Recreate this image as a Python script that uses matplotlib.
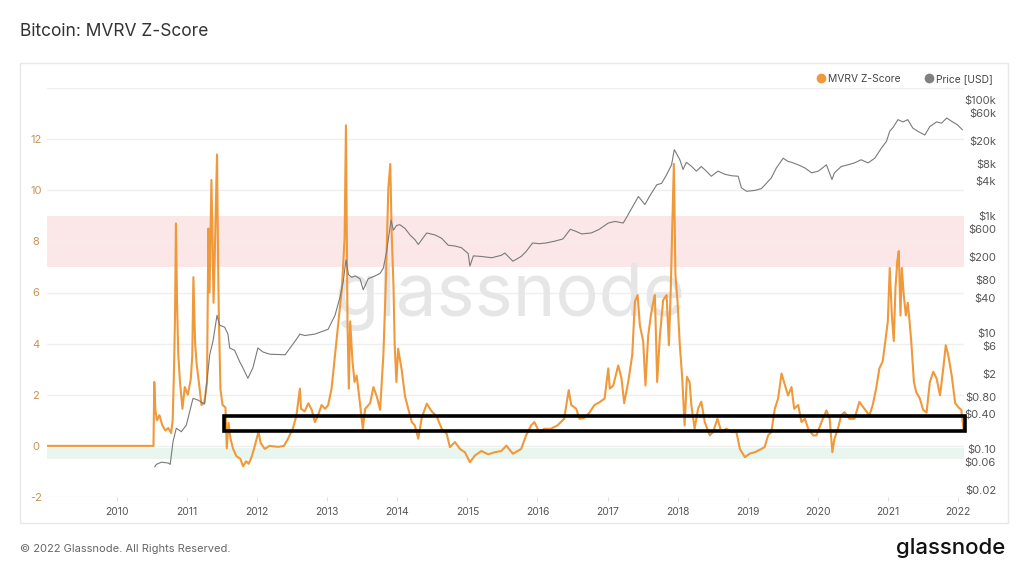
import numpy as np
import pandas as pd
import matplotlib
matplotlib.use('Agg')
import matplotlib.pyplot as plt
import matplotlib.dates as mdates
from matplotlib.patches import Rectangle
from matplotlib.lines import Line2D
import matplotlib.ticker as ticker

plt.rcParams['font.family'] = ['Inter', 'DejaVu Sans']

# MVRV Z-Score (date, value)
mvrv_dates = [
    '2009-01-03', '2010-07-10', '2010-07-14', '2010-07-20', '2010-07-28', '2010-08-10', '2010-08-25',
    '2010-09-10', '2010-09-25', '2010-10-10', '2010-10-18', '2010-10-25', '2010-10-30', '2010-11-04',
    '2010-11-10', '2010-11-16', '2010-11-25', '2010-12-08', '2010-12-20', '2011-01-05', '2011-01-20',
    '2011-01-28', '2011-02-03', '2011-02-12', '2011-02-20', '2011-03-05', '2011-03-17', '2011-04-01',
    '2011-04-15', '2011-04-22', '2011-04-28', '2011-05-08', '2011-05-19', '2011-05-27', '2011-06-06',
    '2011-06-12', '2011-06-16', '2011-06-24', '2011-07-05', '2011-07-20', '2011-07-27', '2011-08-05',
    '2011-08-15', '2011-08-28', '2011-09-15', '2011-10-05', '2011-10-20', '2011-11-05', '2011-11-18',
    '2011-12-05', '2011-12-20', '2012-01-08', '2012-01-20', '2012-02-10', '2012-03-05', '2012-04-20',
    '2012-05-20', '2012-06-10', '2012-07-05', '2012-07-24', '2012-08-11', '2012-08-17', '2012-09-05',
    '2012-09-24', '2012-10-12', '2012-10-28', '2012-11-14', '2012-12-02', '2012-12-20', '2013-01-05',
    '2013-01-23', '2013-02-10', '2013-02-28', '2013-03-18', '2013-04-01', '2013-04-08', '2013-04-16',
    '2013-04-23', '2013-04-30', '2013-05-12', '2013-05-23', '2013-06-03', '2013-06-20', '2013-07-05',
    '2013-07-17', '2013-08-12', '2013-08-29', '2013-09-16', '2013-10-03', '2013-10-20', '2013-11-01',
    '2013-11-15', '2013-11-25', '2013-12-02', '2013-12-12', '2013-12-18', '2013-12-27', '2014-01-05',
    '2014-01-23', '2014-02-10', '2014-02-27', '2014-03-17', '2014-04-02', '2014-04-20', '2014-05-08',
    '2014-06-03', '2014-06-29', '2014-07-25', '2014-08-20', '2014-09-15', '2014-10-02', '2014-10-28',
    '2014-11-23', '2014-12-19', '2015-01-14', '2015-02-09', '2015-03-15', '2015-04-19', '2015-05-24',
    '2015-06-27', '2015-07-23', '2015-08-26', '2015-10-08', '2015-11-03', '2015-11-29', '2015-12-16',
    '2016-01-11', '2016-02-06', '2016-03-11', '2016-04-14', '2016-05-19', '2016-06-12', '2016-06-25',
    '2016-07-21', '2016-08-07', '2016-09-02', '2016-09-28', '2016-10-24', '2016-11-18', '2016-12-16',
    '2017-01-04', '2017-01-12', '2017-01-30', '2017-02-25', '2017-03-14', '2017-03-28', '2017-04-18',
    '2017-05-09', '2017-05-23', '2017-06-06', '2017-06-18', '2017-07-05', '2017-07-17', '2017-07-31',
    '2017-08-14', '2017-08-26', '2017-09-04', '2017-09-16', '2017-09-30', '2017-10-17', '2017-11-04',
    '2017-11-16', '2017-11-26', '2017-12-03', '2017-12-12', '2017-12-20', '2017-12-31', '2018-01-12',
    '2018-01-24', '2018-02-06', '2018-02-18', '2018-03-04', '2018-03-13', '2018-03-30', '2018-04-17',
    '2018-05-04', '2018-05-22', '2018-06-17', '2018-07-04', '2018-07-27', '2018-08-17', '2018-09-12',
    '2018-10-08', '2018-11-03', '2018-11-21', '2018-12-17', '2019-01-12', '2019-02-07', '2019-03-13',
    '2019-03-30', '2019-04-17', '2019-05-04', '2019-05-22', '2019-06-08', '2019-06-26', '2019-07-13',
    '2019-07-30', '2019-08-17', '2019-08-31', '2019-09-21', '2019-10-08', '2019-10-26', '2019-11-12',
    '2019-12-08', '2019-12-25', '2020-01-20', '2020-02-15', '2020-03-03', '2020-03-17', '2020-03-28',
    '2020-04-15', '2020-05-02', '2020-05-19', '2020-06-14', '2020-07-10', '2020-08-05', '2020-08-31',
    '2020-09-26', '2020-10-13', '2020-10-31', '2020-11-17', '2020-12-04', '2020-12-13', '2020-12-31',
    '2021-01-10', '2021-01-21', '2021-01-31', '2021-02-09', '2021-02-18', '2021-02-26', '2021-03-07',
    '2021-03-14', '2021-03-24', '2021-04-04', '2021-04-14', '2021-04-23', '2021-05-02', '2021-05-16',
    '2021-05-28', '2021-06-16', '2021-07-03', '2021-07-21', '2021-08-07', '2021-08-25', '2021-09-11',
    '2021-09-29', '2021-10-16', '2021-10-29', '2021-11-11', '2021-11-29', '2021-12-17', '2022-01-04',
    '2022-01-18', '2022-01-30',
]
mvrv_values = [
    0.0, 0.0, 2.5, 1.4, 1.0, 1.2, 0.8,
    0.6, 0.7, 0.5, 1.0, 3.0, 5.0, 8.7,
    5.5, 3.6, 2.5, 1.45, 2.3, 2.0, 2.6,
    3.5, 6.6, 4.0, 3.2, 2.4, 1.6, 1.7,
    2.5, 8.5, 6.0, 10.4, 5.6, 8.0, 11.4,
    7.0, 4.9, 2.2, 1.6, 1.5, -0.1, 0.9,
    0.3, -0.1, -0.4, -0.5, -0.8, -0.6, -0.7,
    -0.4, 0.0, 0.55, 0.1, -0.12, 0.0, -0.04,
    0.0, 0.28, 0.67, 1.19, 2.24, 1.45, 1.35,
    1.67, 1.4, 0.93, 1.2, 1.6, 1.45, 1.59,
    2.24, 3.55, 4.87, 6.18, 8.14, 12.54, 4.87,
    2.24, 4.87, 3.3, 2.5, 2.75, 1.67, 0.67,
    1.45, 1.67, 2.3, 1.93, 1.41, 3.55, 6.18,
    10.1, 11.03, 8.4, 6.18, 3.94, 2.5, 3.8,
    3.0, 1.93, 1.45, 0.93, 0.8, 0.28, 1.1,
    1.65, 1.35, 1.15, 0.67, 0.47, -0.05, 0.15,
    -0.12, -0.25, -0.64, -0.38, -0.2, -0.33, -0.25,
    -0.2, 0.01, -0.31, -0.12, 0.41, 0.8, 0.93,
    0.54, 0.67, 0.67, 0.8, 1.06, 2.18, 1.6,
    1.45, 1.06, 1.1, 1.3, 1.6, 1.7, 1.85,
    3.03, 2.24, 2.36, 3.15, 2.64, 1.67, 2.5,
    3.55, 5.65, 5.9, 4.7, 4.1, 2.36, 4.3,
    5.1, 5.6, 5.9, 2.5, 4.3, 5.7, 5.9,
    3.94, 6.18, 8.4, 11.03, 6.7, 5.65, 3.94,
    2.7, 0.8, 2.7, 2.5, 1.6, 0.67, 1.45,
    1.73, 0.93, 0.41, 0.54, 1.06, 0.54, 0.67,
    0.54, 0.54, -0.12, -0.44, -0.3, -0.25, -0.12,
    -0.05, 0.41, 0.54, 1.45, 1.85, 2.83, 2.4,
    1.97, 2.3, 1.45, 1.6, 0.93, 1.06, 0.67,
    0.41, 0.41, 0.93, 1.39, 1.06, -0.25, 0.28,
    0.67, 1.19, 1.32, 1.06, 1.06, 1.72, 1.45,
    1.19, 1.59, 2.24, 3.03, 3.3, 3.8, 4.87,
    6.96, 5.1, 4.1, 6.2, 7.2, 7.62, 5.1,
    6.96, 5.9, 5.1, 5.6, 4.9, 4.1, 2.5,
    2.1, 1.85, 1.41, 1.3, 2.5, 2.9, 2.64,
    1.98, 3.03, 3.94, 3.55, 2.75, 1.67, 1.5,
    1.41, 0.6,
]

# Price [USD] (date, value)
price_dates = [
    '2010-07-17', '2010-07-25', '2010-08-20', '2010-09-25', '2010-10-05', '2010-10-20', '2010-11-06',
    '2010-12-02', '2010-12-28', '2011-02-01', '2011-02-27', '2011-04-02', '2011-04-29', '2011-05-16',
    '2011-06-06', '2011-06-20', '2011-07-16', '2011-08-02', '2011-08-11', '2011-09-06', '2011-10-02',
    '2011-10-19', '2011-11-14', '2011-12-10', '2012-01-05', '2012-01-31', '2012-03-06', '2012-05-26',
    '2012-07-17', '2012-08-11', '2012-09-05', '2012-10-27', '2012-12-02', '2013-01-05', '2013-02-10',
    '2013-03-07', '2013-03-25', '2013-04-08', '2013-04-21', '2013-05-08', '2013-05-26', '2013-06-20',
    '2013-07-07', '2013-08-02', '2013-09-06', '2013-10-03', '2013-10-20', '2013-11-06', '2013-11-18',
    '2013-11-29', '2013-12-11', '2013-12-28', '2014-01-14', '2014-02-10', '2014-03-08', '2014-04-02',
    '2014-04-20', '2014-06-03', '2014-07-17', '2014-08-20', '2014-09-23', '2014-10-28', '2014-12-01',
    '2015-01-05', '2015-01-14', '2015-02-01', '2015-03-15', '2015-05-08', '2015-06-27', '2015-07-15',
    '2015-08-26', '2015-10-08', '2015-11-03', '2015-12-07', '2016-01-11', '2016-02-15', '2016-03-30',
    '2016-05-13', '2016-06-20', '2016-07-16', '2016-08-19', '2016-10-08', '2016-11-18', '2017-01-04',
    '2017-02-08', '2017-03-23', '2017-04-18', '2017-06-10', '2017-07-14', '2017-08-10', '2017-09-14',
    '2017-10-09', '2017-11-04', '2017-11-30', '2017-12-14', '2017-12-26', '2018-01-12', '2018-01-29',
    '2018-02-15', '2018-03-13', '2018-04-08', '2018-05-04', '2018-05-30', '2018-06-25', '2018-07-30',
    '2018-09-03', '2018-10-08', '2018-11-12', '2018-11-29', '2018-12-26', '2019-02-08', '2019-03-13',
    '2019-04-08', '2019-05-04', '2019-05-30', '2019-07-05', '2019-07-30', '2019-08-17', '2019-09-21',
    '2019-10-26', '2019-11-30', '2020-01-04', '2020-02-15', '2020-03-15', '2020-03-28', '2020-05-02',
    '2020-06-06', '2020-07-10', '2020-08-14', '2020-09-19', '2020-10-24', '2020-11-28', '2020-12-24',
    '2021-01-10', '2021-01-28', '2021-02-22', '2021-03-20', '2021-04-14', '2021-05-10', '2021-06-05',
    '2021-07-12', '2021-08-07', '2021-09-11', '2021-10-07', '2021-11-03', '2021-11-29', '2021-12-28',
    '2022-01-23',
]
price_values = [
    0.05, 0.055, 0.06, 0.058, 0.055, 0.137, 0.23,
    0.2, 0.26, 0.75, 0.7, 0.6, 4.2, 7.2,
    20, 13.5, 12.5, 9.5, 5.5, 5.0, 3.2,
    2.5, 1.66, 2.5, 5.5, 4.7, 4.3, 4.2,
    7.2, 9.5, 9.0, 9.5, 10.5, 11.5, 20,
    40, 76, 180, 100, 90, 95, 85,
    55, 85, 95, 105, 130, 250, 480,
    870, 580, 700, 720, 620, 480, 400,
    330, 520, 480, 420, 320, 310, 290,
    230, 140, 210, 205, 195, 215, 235,
    170, 205, 250, 350, 340, 350, 375,
    410, 600, 560, 500, 520, 600, 770,
    820, 770, 1080, 2200, 1600, 2300, 3500,
    3700, 5200, 7700, 14000, 12000, 9400, 6400,
    8500, 7300, 6000, 7200, 6000, 4900, 6000,
    5300, 5000, 4900, 3100, 2700, 2800, 3000,
    3700, 4600, 6800, 10000, 8800, 8500, 7700,
    6800, 5600, 6000, 7700, 4300, 5600, 7200,
    7700, 8300, 9400, 8300, 10000, 15000, 19500,
    29000, 34000, 46000, 42000, 46000, 33000, 29000,
    25000, 35000, 42000, 40000, 49000, 43000, 37600,
    31000,
]

year_ticks = [str(y) for y in range(2010, 2023)]
z_ticks = [-2, 0, 2, 4, 6, 8, 10, 12, 14]
price_ticks = [1e5, 6e4, 2e4, 8e3, 4e3, 1e3, 600, 200, 80, 40, 10, 6, 2, 0.8, 0.4, 0.1, 0.06, 0.02]
price_labels = ['$100k', '$60k', '$20k', '$8k', '$4k', '$1k', '$600', '$200', '$80', '$40',
                '$10', '$6', '$2', '$0.80', '$0.40', '$0.10', '$0.06', '$0.02']

orange = '#f0993a'
grey = '#7a7a7a'

fig = plt.figure(figsize=(10.24, 5.63), dpi=100)
fig.patch.set_facecolor('white')

# outer panel frame
fig.add_artist(Rectangle((20 / 1024, 1 - 523 / 563), 988 / 1024, 460 / 563,
                         transform=fig.transFigure, fill=False, edgecolor='#e8e8e8', lw=1))

ax = fig.add_axes([47 / 1024, 1 - 497 / 563, 917 / 1024, 409 / 563])
for s in ax.spines.values():
    s.set_visible(False)

mvrv_x = pd.to_datetime(mvrv_dates)
price_x = pd.to_datetime(price_dates)

ax.axhspan(7, 9, color='#fbe7e7', lw=0, zorder=0.5)
ax.axhspan(-0.5, -0.1, color='#e9f6ef', lw=0, zorder=0.5)
# watermark
ax.text(0.505, 0.49, 'glassnode', transform=ax.transAxes, ha='center', va='center',
        fontsize=52, color='#e6e6e6', zorder=0.8)
ax.plot(mvrv_x, mvrv_values, color=orange, lw=1.5, zorder=3)

ax.set_ylim(-2, 14)
ax.set_yticks(z_ticks)
ax.set_yticklabels([str(t) if t < 14 else '' for t in z_ticks])
ax.grid(axis='y', color='#efefef', lw=1, zorder=0)
ax.set_axisbelow(True)
ax.tick_params(axis='y', length=0, pad=8, labelsize=8, labelcolor='#c99255')
for lab in ax.get_yticklabels():
    lab.set_horizontalalignment('center')

ax.set_xlim(pd.Timestamp('2009-01-01'), pd.Timestamp('2022-02-01'))
ax.set_xticks(pd.to_datetime([y + '-01-01' for y in year_ticks]))
ax.set_xticklabels(year_ticks)
ax.tick_params(axis='x', length=3, color='#e0e0e0', pad=4, labelsize=7.5, labelcolor='#555555')

ax2 = ax.twinx()
for s in ax2.spines.values():
    s.set_visible(False)
ax2.plot(price_x, price_values, color=grey, lw=0.8, zorder=3)
ax2.set_yscale('log')
ax2.set_yticks(price_ticks)
ax2.set_yticklabels(price_labels)
ax2.yaxis.set_minor_locator(ticker.NullLocator())
ax2.tick_params(axis='y', length=0, pad=23, labelsize=8, labelcolor='#555555')
for lab in ax2.get_yticklabels():
    lab.set_horizontalalignment('right')

# highlighted zone box
x0 = mdates.date2num(pd.Timestamp('2011-07-11'))
x1 = mdates.date2num(pd.Timestamp('2022-02-08'))
box = Rectangle((x0, 0.6), x1 - x0, 0.58, transform=ax.transData, fill=False,
                edgecolor='black', lw=2.6, clip_on=False, zorder=10)
ax2.add_patch(box)
ax2.set_ylim(10 ** -1.82, 10 ** 5.206)

handles = [Line2D([], [], marker='o', ls='', color=orange, markersize=6),
           Line2D([], [], marker='o', ls='', color='#808080', markersize=6)]
fig.legend(handles, ['MVRV Z-Score', 'Price [USD]'], loc='center right',
           bbox_to_anchor=(0.979, 1 - 79 / 563), ncol=2, frameon=False, fontsize=7.4,
           handletextpad=0.2, handlelength=1.0, columnspacing=2.3, labelcolor='#444444')

fig.text(20 / 1024, 1 - 31 / 563, 'Bitcoin: MVRV Z-Score', fontsize=12.5, color='#333333',
         va='center', ha='left')
fig.text(20 / 1024, 1 - 549 / 563, '© 2022 Glassnode. All Rights Reserved.', fontsize=8,
         color='#666666', va='center', ha='left')
fig.text(1005 / 1024, 1 - 548 / 563, 'glassnode', fontsize=16, color='#111111',
         va='center', ha='right', fontweight='medium')

fig.savefig('out.png', dpi=100)
